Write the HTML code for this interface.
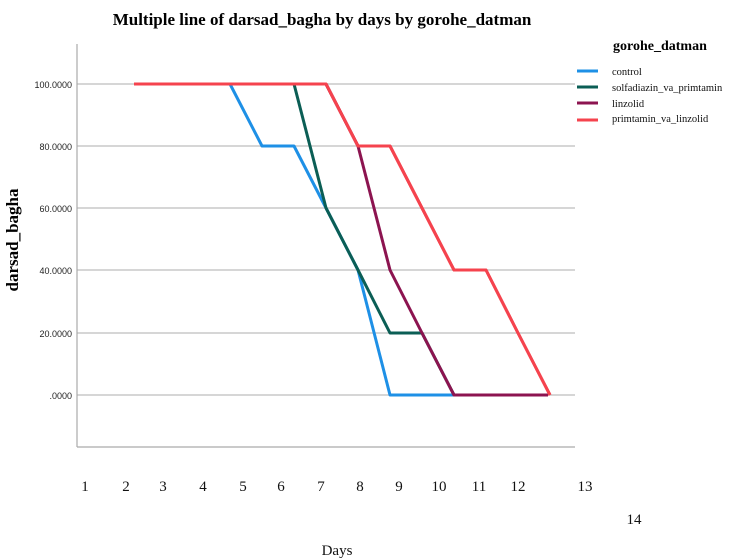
<!DOCTYPE html>
<html><head><meta charset="utf-8"><style>
body{margin:0;background:#fff;}
svg{display:block;}
</style></head><body>
<svg width="734" height="560" xmlns="http://www.w3.org/2000/svg">
<rect width="734" height="560" fill="#fff"/>
<text x="322" y="25" text-anchor="middle" font-family="Liberation Serif" font-weight="bold" font-size="17">Multiple line of darsad_bagha by days by gorohe_datman</text>
<g stroke="#c8c8c8" stroke-width="1.5">
<line x1="77" y1="84" x2="575" y2="84"/>
<line x1="77" y1="146" x2="575" y2="146"/>
<line x1="77" y1="208" x2="575" y2="208"/>
<line x1="77" y1="270" x2="575" y2="270"/>
<line x1="77" y1="333" x2="575" y2="333"/>
<line x1="77" y1="395" x2="575" y2="395"/>
</g>
<line x1="77" y1="44" x2="77" y2="447" stroke="#aaa" stroke-width="1.2"/>
<line x1="77" y1="447" x2="575" y2="447" stroke="#aaa" stroke-width="1.2"/>
<g font-family="Liberation Sans" font-size="9" text-anchor="end" fill="#222">
<text x="72" y="88">100.0000</text>
<text x="72" y="150">80.0000</text>
<text x="72" y="212">60.0000</text>
<text x="72" y="274">40.0000</text>
<text x="72" y="337">20.0000</text>
<text x="72" y="399">.0000</text>
</g>
<text transform="translate(18,240) rotate(-90)" text-anchor="middle" font-family="Liberation Serif" font-weight="bold" font-size="17">darsad_bagha</text>
<g fill="none" stroke-width="3" stroke-linejoin="round">
<polyline stroke="#1e90e6" points="134,84 230,84 262,146 294,146 326,208 358,270 390,395 454,395"/>
<polyline stroke="#0b5e55" points="134,84 294,84 326,208 358,270 390,333 422,333 454,395"/>
<polyline stroke="#f5434e" points="134,84 326,84 358,146 390,146 422,208 454,270 486,270 518,333 550,395"/>
<polyline stroke="#8c1450" points="326,84 358,146 390,270 422,333 454,395 548,395"/>
<polyline stroke="#f5434e" points="134,84 326,84 358,146 390,146 422,208 454,270 486,270 518,333 550,395" />
</g>
<g font-family="Liberation Serif" font-size="15" fill="#111" text-anchor="middle">
<text x="85" y="491">1</text><text x="126" y="491">2</text><text x="163" y="491">3</text>
<text x="203" y="491">4</text><text x="243" y="491">5</text><text x="281" y="491">6</text>
<text x="321" y="491">7</text><text x="360" y="491">8</text><text x="399" y="491">9</text>
<text x="439" y="491">10</text><text x="479" y="491">11</text><text x="518" y="491">12</text>
<text x="585" y="491">13</text><text x="634" y="524">14</text>
<text x="337" y="555">Days</text>
</g>
<text x="613" y="50" font-family="Liberation Serif" font-weight="bold" font-size="14">gorohe_datman</text>
<g stroke-width="3">
<line x1="577" y1="71" x2="598" y2="71" stroke="#1e90e6"/>
<line x1="577" y1="87" x2="598" y2="87" stroke="#0b5e55"/>
<line x1="577" y1="103" x2="598" y2="103" stroke="#8c1450"/>
<line x1="577" y1="120" x2="598" y2="120" stroke="#f5434e"/>
</g>
<g font-family="Liberation Serif" font-size="10.5" fill="#111">
<text x="612" y="75">control</text>
<text x="612" y="91">solfadiazin_va_primtamin</text>
<text x="612" y="107">linzolid</text>
<text x="612" y="122">primtamin_va_linzolid</text>
</g>
</svg>
</body></html>
